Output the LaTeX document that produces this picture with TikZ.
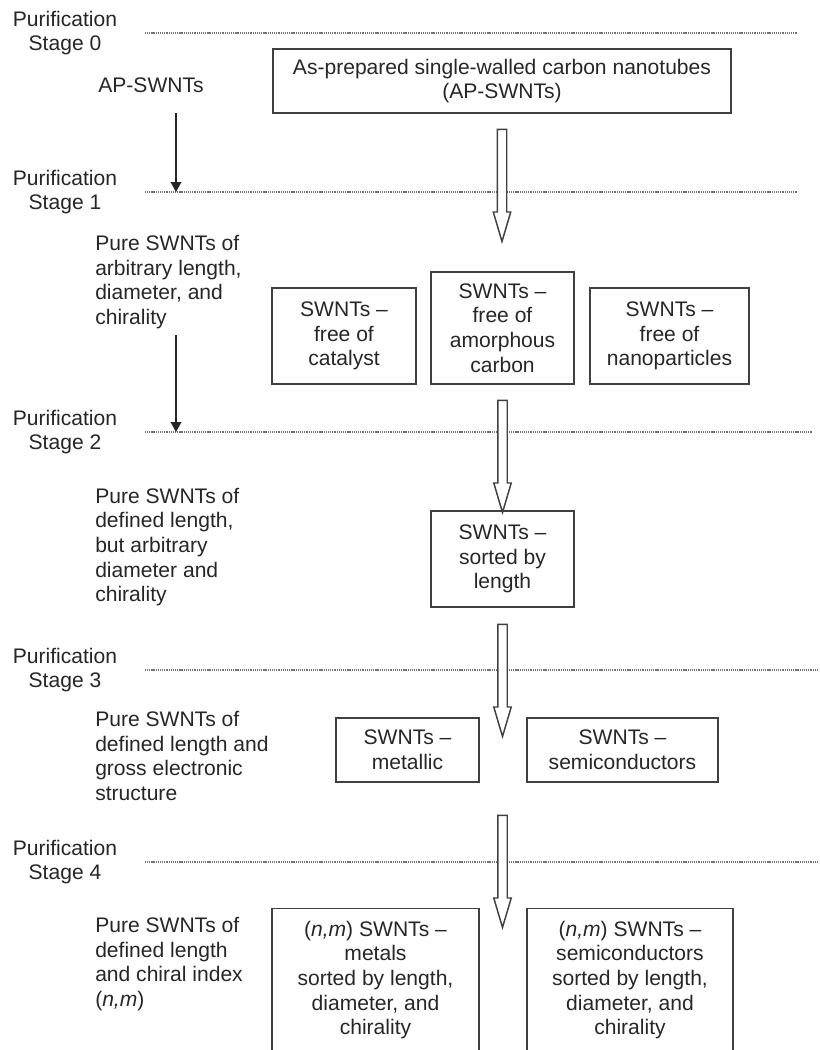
\documentclass[tikz,border=0pt]{standalone}
\usepackage{fontspec}
\setmainfont{Liberation Sans}
\usetikzlibrary{shapes.arrows,arrows.meta,calc}
\tikzset{
        fatarrow/.style={
            draw=black!75, fill=white, line width=1.1pt,
            single arrow, rotate=-90, anchor=tail,
            minimum height=84pt, inner xsep=0pt, inner ysep=3pt,
            single arrow head extend=3pt, single arrow tip angle=33,
        },
    }

\begin{document}
\begin{tikzpicture}[
          x=0.75pt, y=-0.75pt,
          font=\fontsize{15.8}{18.5}\selectfont,
          box/.style = {draw=black!75, line width=1.1pt, align=center, inner sep=0pt, text=black!85},
          stage/.style = {align=center, inner sep=0pt, text=black!85},
          note/.style = {align=left, anchor=west, inner sep=0pt, text=black!85},
          sepline/.style = {draw=black!55, line width=0.8pt, dash pattern=on 0.8pt off 0.6pt},
          down/.style = {-{Triangle[width=8pt,length=7.5pt]}, line width=1pt, draw=black!85}
          ]
 \useasboundingbox (0,0) rectangle (819,1050);
 \clip (0,0) rectangle (819,1050);
          % stage borders
          \foreach \y/\xe/\n in {33/797/0, 192/797/1, 432/812/2, 670/819/3, 862/819/4} {
            \draw[sepline] (145,\y) -- (\xe,\y);
            \node[stage] (st\n) at (65,\y) {Purification\\Stage \n};
          }
          % left column
          \node[stage] (apl) at (151,85) {AP-SWNTs};
          \node[note] (pure1) at (95,282) {Pure SWNTs of\\arbitrary length,\\diameter, and\\chirality};
          \node[note] (pure2) at (95,547) {Pure SWNTs of\\defined length,\\but arbitrary\\diameter and\\chirality};
          \node[note] (pure3) at (95,756) {Pure SWNTs of\\defined length and\\gross electronic\\structure};
          \node[note] (pure4) at (95,964) {Pure SWNTs of\\defined length\\and chiral index\\(\textit{n,m})};
          \coordinate (s1) at (176,113);
          \coordinate (s2) at (176,335);
          \draw[down] (s1) -- (s1 |- st1);
          \draw[down] (s2) -- (s2 |- st2);
          % boxes
          \node[box, minimum width=343.5pt, minimum height=48pt] (apbox) at (502,81) {As-prepared single-walled carbon nanotubes\\(AP-SWNTs)};
          \node[box, minimum width=108pt, minimum height=72pt] (cat) at (344,336) {SWNTs --\\free of\\catalyst};
          \node[box, minimum width=107.25pt, minimum height=84pt] (amc) at (502.5,328) {SWNTs --\\free of\\amorphous\\carbon};
          \node[box, minimum width=119.25pt, minimum height=72pt] (nanop) at (669.5,336) {SWNTs --\\free of\\nanoparticles};
          \node[box, minimum width=107.25pt, minimum height=72pt] (bylen) at (502.5,559) {SWNTs --\\sorted by\\length};
          \node[box, minimum width=107.25pt, minimum height=48pt] (met) at (407.5,750) {SWNTs --\\metallic};
          \node[box, minimum width=143.25pt, minimum height=48pt] (semi) at (622.5,750) {SWNTs --\\semiconductors};
          \node[box, anchor=north, minimum width=155.25pt, inner ysep=9pt, text depth=110pt] (nmmet) at (375.5,908)
               {(\textit{n,m}) SWNTs --\\metals\\sorted by length,\\diameter, and\\chirality};
          \node[box, anchor=north, minimum width=154.5pt, inner ysep=9pt, text depth=110pt] (nmsemi) at (630,908)
               {(\textit{n,m}) SWNTs --\\semiconductors\\sorted by length,\\diameter, and\\chirality};
          % stage arrows
          \node[fatarrow] (arr1) at ($(apbox.south)+(0,15)$) {};
          \node[fatarrow] (arr2) at ($(amc.south)+(0,15)$) {};
          \node[fatarrow] (arr3) at ($(bylen.south)+(0,16)$) {};
          \node[fatarrow] (arr4) at ($(bylen.south |- met.south)+(0,32)$) {};
        \end{tikzpicture}
\end{document}
